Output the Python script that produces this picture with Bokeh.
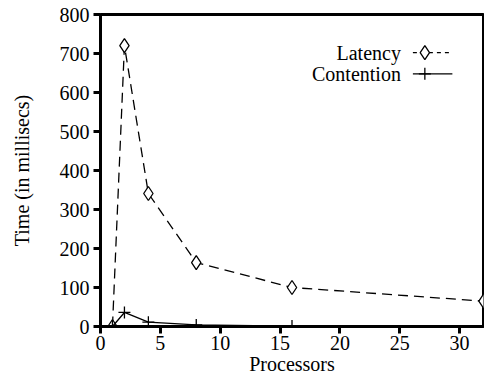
from bokeh.plotting import figure
from bokeh.models import FixedTicker, Label, Range1d
from bokeh.embed import file_html
from bokeh.resources import INLINE

# Data
processors = [1, 2, 4, 8, 16, 32]
latency = [0, 720, 341, 164, 100, 65]
contention = [0, 36, 11, 4, 1, 0]

x_ticks = [0, 5, 10, 15, 20, 25, 30]
y_ticks = [0, 100, 200, 300, 400, 500, 600, 700, 800]

series_names = ["Latency", "Contention"]
legend_y = [702, 648]

FONT = "Times New Roman"

p = figure(width=484, height=378, output_backend="svg", toolbar_location=None,
           x_range=Range1d(0, 32), y_range=Range1d(0, 800),
           min_border_left=100, min_border_right=1, min_border_top=14, min_border_bottom=52)

p.xgrid.visible = False
p.ygrid.visible = False
p.outline_line_color = "black"
p.outline_line_width = 3
p.background_fill_color = "white"
p.border_fill_color = "white"

for ax in (p.xaxis[0], p.yaxis[0]):
    ax.axis_line_width = 3
    ax.major_tick_line_width = 3
    ax.major_tick_in = 0
    ax.major_tick_out = 7
    ax.minor_tick_line_color = None
    ax.major_label_text_font = FONT
    ax.major_label_text_font_size = "20px"
    ax.major_label_text_color = "black"
    ax.axis_label_text_font = FONT
    ax.axis_label_text_font_size = "20px"
    ax.axis_label_text_font_style = "normal"
    ax.axis_label_text_color = "black"

p.xaxis.ticker = FixedTicker(ticks=x_ticks)
p.yaxis.ticker = FixedTicker(ticks=y_ticks)
p.xaxis.axis_label = "Processors"
p.yaxis.axis_label = "Time (in millisecs)"
p.xaxis.major_label_standoff = 2
p.xaxis.axis_label_standoff = 0
p.yaxis.major_label_standoff = 4
p.yaxis.axis_label_standoff = 24

# Latency: dashed with diamonds
p.line(processors, latency, line_color="black", line_width=1.3, line_dash="10 6")
p.scatter(processors, latency, marker="diamond", size=14, fill_color="white",
          line_color="black", line_width=1.3)

# Contention: solid with plus
p.line(processors, contention, line_color="black", line_width=1.3)
p.scatter(processors, contention, marker="cross", size=12, line_color="black", line_width=1.3)

# Legend (text on the left, sample on the right)
for name, ly in zip(series_names, legend_y):
    p.add_layout(Label(x=25.1, y=ly, text=name, text_align="right", text_baseline="middle",
                       text_font=FONT, text_font_size="20px", text_color="black"))
p.line([26.1, 29.4], [legend_y[0], legend_y[0]], line_color="black", line_width=1.3, line_dash="4 4")
p.scatter([27.1], [legend_y[0]], marker="diamond", size=14, fill_color="white",
          line_color="black", line_width=1.3)
p.line([26.1, 29.4], [legend_y[1], legend_y[1]], line_color="black", line_width=1.3)
p.scatter([27.1], [legend_y[1]], marker="cross", size=12, line_color="black", line_width=1.3)

open("out.html", "w").write(file_html(p, INLINE))
